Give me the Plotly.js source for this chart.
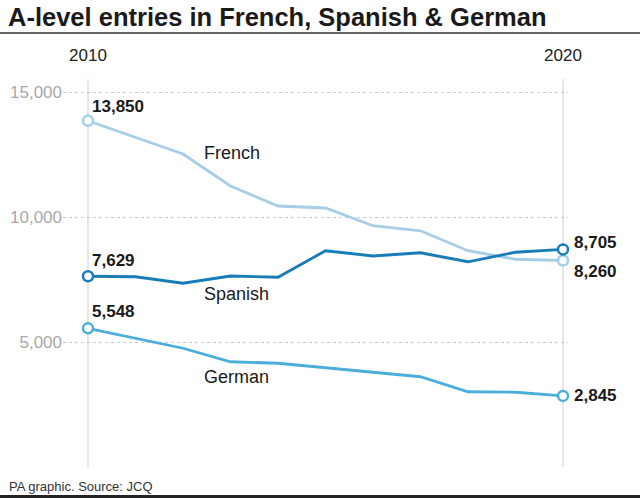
<!DOCTYPE html>
<html>
<head>
<meta charset="utf-8">
<script src="https://cdn.plot.ly/plotly-3.0.1.min.js"></script>
<style>
html,body{margin:0;padding:0;background:#fff;}
#chart{width:640px;height:498px;}
</style>
</head>
<body>
<div id="chart"></div>
<script>
const years = [2010, 2011, 2012, 2013, 2014, 2015, 2016, 2017, 2018, 2019, 2020];
const french  = [13850, 13200, 12520, 11240, 10440, 10360, 9650, 9450, 8650, 8310, 8260];
const spanish = [7629, 7610, 7350, 7640, 7590, 8650, 8440, 8570, 8210, 8590, 8705];
const german  = [5548, 5150, 4750, 4210, 4150, 3970, 3790, 3610, 3010, 2990, 2845];
const seriesNames = ["French", "Spanish", "German"];
const yTicks = [5000, 10000, 15000];
const xTicks = [2010, 2020];

const colors = {French: "#a6cee6", Spanish: "#187db6", German: "#4aaedb"};
const FONT = "Liberation Sans, Arial, sans-serif";

const W = 640, H = 498;
const M = {l: 63, r: 72, t: 79, b: 31};
const pw = W - M.l - M.r, ph = H - M.t - M.b;
const px2paperX = p => (p - M.l) / pw;
const px2paperY = p => (H - M.b - p) / ph;

const all = {French: french, Spanish: spanish, German: german};
const traces = [];
seriesNames.forEach(n => {
  const v = all[n];
  traces.push({x: years, y: v, type: "scatter", mode: "lines",
    line: {color: colors[n], width: 2.8}, hoverinfo: "skip", showlegend: false});
});
seriesNames.forEach(n => {
  const v = all[n];
  const last = v.length - 1;
  traces.push({x: [years[0], years[last]], y: [v[0], v[last]], type: "scatter", mode: "markers",
    marker: {symbol: "circle", size: 10, color: "#fff", line: {color: colors[n], width: 2.5}},
    hoverinfo: "skip", showlegend: false, cliponaxis: false});
});

const fmt = v => v.toLocaleString("en-US");
const annotations = [];
const startShift = {French: 14, Spanish: 16, German: 17};
seriesNames.forEach(n => {
  const v = all[n];
  annotations.push({x: years[0], y: v[0], text: fmt(v[0]), showarrow: false,
    xanchor: "left", yanchor: "middle", xshift: 2, yshift: startShift[n],
    font: {family: FONT, size: 17, color: "#1a1a1a", weight: "bold"}});
});
const endShift = {French: -11, Spanish: 7, German: 0};
seriesNames.forEach(n => {
  const v = all[n];
  const last = v.length - 1;
  annotations.push({x: years[last], y: v[last], text: fmt(v[last]), showarrow: false,
    xanchor: "left", yanchor: "middle", xshift: 9, yshift: endShift[n],
    font: {family: FONT, size: 17, color: "#1a1a1a", weight: "bold"}});
});
const namePos = {French: [2012.4, 12570], Spanish: [2012.4, 6920], German: [2012.4, 3590]};
seriesNames.forEach(n => {
  annotations.push({x: namePos[n][0], y: namePos[n][1], text: n, showarrow: false,
    xanchor: "left", yanchor: "middle",
    font: {family: FONT, size: 18, color: "#1a1a1a"}});
});
annotations.push({xref: "paper", yref: "paper", x: px2paperX(6), y: px2paperY(17),
  text: "A-level entries in French, Spanish & German", showarrow: false,
  xanchor: "left", yanchor: "middle",
  font: {family: FONT, size: 25.5, color: "#1a1a1a", weight: "bold"}});
annotations.push({xref: "paper", yref: "paper", x: px2paperX(7), y: px2paperY(486),
  text: "PA graphic. Source: JCQ", showarrow: false,
  xanchor: "left", yanchor: "middle",
  font: {family: FONT, size: 13, color: "#333"}});

const shapes = [];
xTicks.forEach(x => {
  shapes.push({type: "line", xref: "x", yref: "paper", x0: x, x1: x, y0: 0, y1: 1,
    line: {color: "#cfcfcf", width: 1}, layer: "below"});
});
shapes.push({type: "line", xref: "paper", yref: "paper", x0: px2paperX(0), x1: px2paperX(640),
  y0: px2paperY(33), y1: px2paperY(33), line: {color: "#333", width: 1.5}});
shapes.push({type: "line", xref: "paper", yref: "paper", x0: px2paperX(0), x1: px2paperX(640),
  y0: px2paperY(496.5), y1: px2paperY(496.5), line: {color: "#222", width: 3}});

const layout = {
  width: W, height: H,
  margin: M,
  paper_bgcolor: "#fff", plot_bgcolor: "#fff",
  showlegend: false,
  xaxis: {range: [2010 - 25/47.5, 2020 + 5/47.5], side: "top",
    tickvals: xTicks, ticktext: xTicks.map(String),
    showgrid: false, zeroline: false, showline: false,
    ticks: "outside", ticklen: 10, tickcolor: "rgba(0,0,0,0)",
    tickfont: {family: FONT, size: 17, color: "#222"}, fixedrange: true},
  yaxis: {range: [0, ph / 0.025], tickvals: yTicks, tickformat: ",d",
    showgrid: true, gridcolor: "#cccccc", griddash: "dot", gridwidth: 1,
    zeroline: false, showline: false, ticks: "",
    tickfont: {family: FONT, size: 17, color: "#a8a8a8"}, fixedrange: true},
  annotations: annotations,
  shapes: shapes
};

Plotly.newPlot("chart", traces, layout, {staticPlot: true, displayModeBar: false});
</script>
</body>
</html>
